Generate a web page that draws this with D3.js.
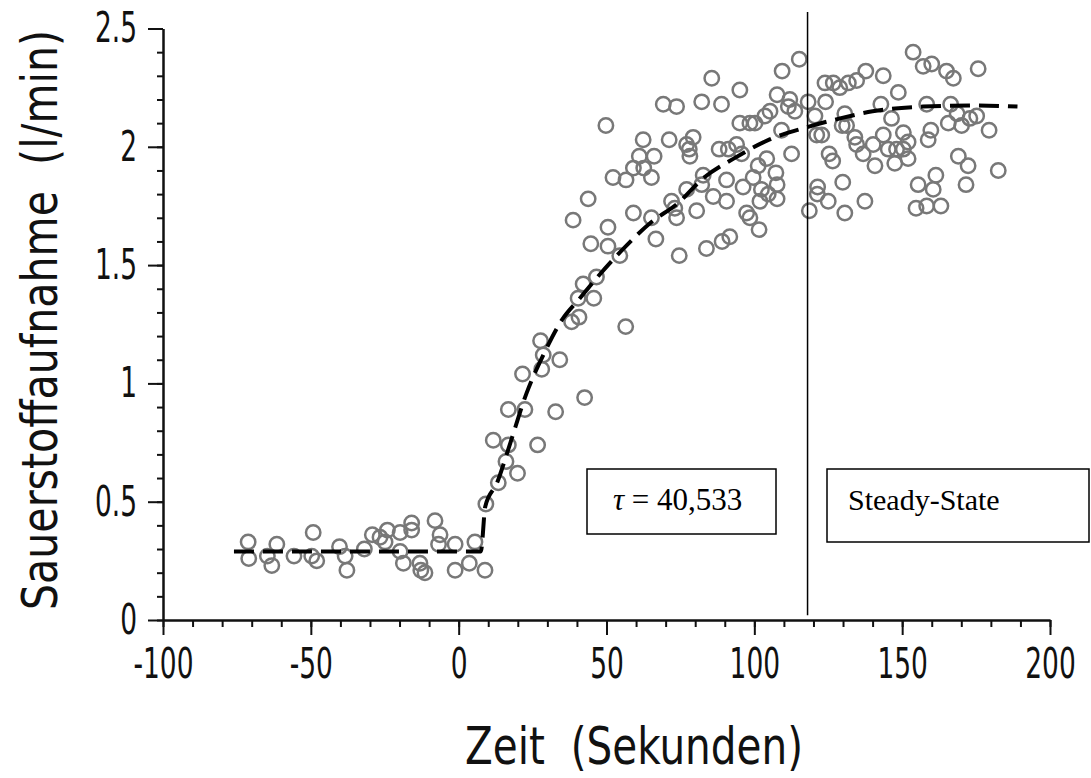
<!DOCTYPE html>
<html>
<head>
<meta charset="utf-8">
<script src="https://cdn.jsdelivr.net/npm/d3@7"></script>
<style>
  body { margin: 0; background: #fff; }
  svg { display: block; }
</style>
</head>
<body>
<div id="chart"></div>
<script>
// Messpunkte (Zeit in s, VO2 in l/min)
const messZeit = [
  -71.2, -71.0, -64.7, -63.2, -61.5, -55.7, -49.2, -49.7, -48.0, -40.3, -38.4, -37.8, -31.9, -29.2, -26.6, -24.1, -24.9,
  -19.8, -19.8, -18.7, -15.9, -15.9, -13.1, -12.8, -11.4, -8.0, -6.3, -6.8, -1.2, -1.2, 3.6, 5.5, 8.9, 9.2,
  28.6, 34.2, 28.1, 21.6, 42.6, 16.8, 22.4, 32.8, 11.7, 16.8, 26.7, 16.0, 19.9, 13.4, 27.7,
  69.2, 73.7, 82.2, 88.9, 49.8, 95.1, 98.5, 100.2, 62.4, 71.2, 79.3, 77.1, 78.0, 78.2, 88.1, 91.2, 94.0, 95.7,
  61.1, 66.1, 59.1, 62.6, 52.2, 56.6, 65.2, 82.7, 82.2, 90.6, 101.3, 99.6, 96.2, 102.4, 43.8, 77.1, 86.1, 90.6,
  101.9, 38.7, 59.1, 65.2, 72.0, 73.1, 73.7, 80.5, 97.4, 98.5, 101.6, 50.5, 44.7, 50.5, 66.7, 83.8, 89.1, 91.7,
  54.5, 74.6, 46.6, 42.1, 40.4, 45.7, 40.7, 38.2, 56.5, 85.6,
  115.2, 109.4, 95.1, 107.7, 112.0, 111.5, 113.7, 105.3, 103.6, 109.2, 112.6, 104.2, 107.3, 107.7, 104.7, 107.7,
  118.2, 124.1, 120.5, 123.9, 126.7, 128.9, 131.8, 134.6, 137.7, 143.6, 148.7, 153.7, 157.1, 160.0, 165.0, 167.3,
  175.7, 142.8, 158.3, 166.4, 130.6, 146.4, 129.7, 131.2, 121.1, 122.8, 134.0, 134.6, 140.2, 143.6, 150.4, 152.0,
  159.7, 158.8, 165.6, 170.1, 172.9, 175.2, 179.4, 136.8, 145.3, 148.1, 150.4, 147.5, 152.0, 140.8, 125.3, 126.5,
  169.0, 172.3, 182.5, 161.4, 155.4, 160.5, 171.6, 129.9, 121.4, 121.3, 125.0, 118.6, 130.6, 137.4, 154.7, 158.3,
  163.1, 168.6
];
const messVO2 = [
  0.33, 0.26, 0.27, 0.23, 0.32, 0.27, 0.37, 0.27, 0.25, 0.31, 0.27, 0.21, 0.30, 0.36, 0.35, 0.38, 0.33,
  0.37, 0.29, 0.24, 0.41, 0.38, 0.24, 0.21, 0.20, 0.42, 0.36, 0.32, 0.32, 0.21, 0.24, 0.33, 0.21, 0.49,
  1.12, 1.10, 1.06, 1.04, 0.94, 0.89, 0.89, 0.88, 0.76, 0.74, 0.74, 0.67, 0.62, 0.58, 1.18,
  2.18, 2.17, 2.19, 2.18, 2.09, 2.10, 2.10, 2.10, 2.03, 2.03, 2.04, 2.01, 1.99, 1.96, 1.99, 1.99, 2.01, 1.97,
  1.96, 1.96, 1.91, 1.91, 1.87, 1.86, 1.87, 1.88, 1.84, 1.86, 1.92, 1.87, 1.83, 1.82, 1.78, 1.82, 1.79, 1.77,
  1.77, 1.69, 1.72, 1.70, 1.77, 1.74, 1.70, 1.73, 1.72, 1.70, 1.65, 1.66, 1.59, 1.58, 1.61, 1.57, 1.60, 1.62,
  1.54, 1.54, 1.45, 1.42, 1.36, 1.36, 1.28, 1.26, 1.24, 2.29,
  2.37, 2.32, 2.24, 2.22, 2.20, 2.17, 2.15, 2.15, 2.13, 2.07, 1.97, 1.95, 1.89, 1.84, 1.80, 1.78,
  2.19, 2.19, 2.13, 2.27, 2.27, 2.25, 2.27, 2.28, 2.32, 2.30, 2.23, 2.40, 2.34, 2.35, 2.32, 2.29,
  2.33, 2.18, 2.18, 2.18, 2.14, 2.12, 2.09, 2.09, 2.05, 2.05, 2.04, 2.01, 2.01, 2.05, 2.06, 2.02,
  2.07, 2.03, 2.10, 2.09, 2.12, 2.13, 2.07, 1.97, 1.99, 1.99, 1.99, 1.93, 1.95, 1.92, 1.97, 1.94,
  1.96, 1.92, 1.90, 1.88, 1.84, 1.82, 1.84, 1.85, 1.83, 1.80, 1.77, 1.73, 1.72, 1.77, 1.74, 1.75,
  1.75, 2.14
];

// Angepasste Kurve (gestrichelt)
const fitZeit = [-76, 7.5, 9, 13, 17, 23, 29, 35, 41, 47, 55, 65, 74, 83, 93, 105, 117, 129, 140, 157, 174, 189];
const fitVO2 = [0.29, 0.29, 0.48, 0.58, 0.73, 0.96, 1.13, 1.27, 1.36, 1.45, 1.56, 1.68, 1.76, 1.87, 1.95, 2.03, 2.08, 2.12, 2.15, 2.17, 2.175, 2.17];

const xTickLabels = [-100, -50, 0, 50, 100, 150, 200];
const yTickLabels = [0, 0.5, 1, 1.5, 2, 2.5];
const steadyStateStart = 118;
const tauText = "40,533";

const W = 1091, H = 778;
const AXIS_FONT = '"DejaVu Sans", sans-serif';
const SX = 0.63; // schmale Schrift nachbilden

const svg = d3.select("#chart").append("svg")
    .attr("width", W)
    .attr("height", H);

const x = d3.scaleLinear().domain([-100, 200]).range([163, 1050]);
const y = d3.scaleLinear().domain([0, 2.5]).range([620, 28.5]);

// --- Achsen ---
const gxMinor = svg.append("g").attr("transform", `translate(0,${y(0)})`)
    .call(d3.axisBottom(x).tickValues(d3.range(-100, 201, 10)).tickSize(7).tickSizeOuter(0).tickFormat(""));
const gx = svg.append("g").attr("transform", `translate(0,${y(0)})`)
    .call(d3.axisBottom(x).tickValues(xTickLabels).tickSize(15).tickSizeOuter(0).tickPadding(13).tickFormat(d => String(d)));

const gyMinor = svg.append("g").attr("transform", `translate(${x(-100)},0)`)
    .call(d3.axisLeft(y).tickValues(d3.range(0, 2.51, 0.1)).tickSize(6).tickSizeOuter(0).tickFormat(""));
const gy = svg.append("g").attr("transform", `translate(${x(-100)},0)`)
    .call(d3.axisLeft(y).tickValues(yTickLabels).tickSize(15).tickSizeOuter(0).tickFormat(d => String(d)));

[gxMinor, gx, gyMinor, gy].forEach(g => {
  g.selectAll("path, line").attr("stroke", "#111").attr("stroke-width", 2);
});

gx.selectAll("text")
    .attr("font-family", AXIS_FONT)
    .attr("font-size", 42)
    .attr("fill", "#111")
    .attr("transform", `scale(${SX},1)`);

gy.selectAll("text")
    .attr("font-family", AXIS_FONT)
    .attr("font-size", 42)
    .attr("fill", "#111")
    .attr("x", -26 / SX)
    .attr("transform", `scale(${SX},1)`);

// --- Messpunkte ---
svg.append("g")
  .selectAll("circle")
  .data(messZeit.map((t, i) => ({t: t, v: messVO2[i]})))
  .join("circle")
    .attr("cx", d => x(d.t))
    .attr("cy", d => y(d.v))
    .attr("r", 7.2)
    .attr("fill", "none")
    .attr("stroke", "#787878")
    .attr("stroke-width", 2.5);

// --- Fitkurve ---
const line = d3.line()
    .x(d => x(d[0]))
    .y(d => y(d[1]))
    .curve(d3.curveMonotoneX);

svg.append("path")
    .datum(fitZeit.map((t, i) => [t, fitVO2[i]]))
    .attr("d", line)
    .attr("fill", "none")
    .attr("stroke", "#000")
    .attr("stroke-width", 4)
    .attr("stroke-dasharray", "20 9");

// --- Steady-State Grenze ---
svg.append("line")
    .attr("x1", x(steadyStateStart)).attr("x2", x(steadyStateStart))
    .attr("y1", y(2.57)).attr("y2", y(0.02))
    .attr("stroke", "#000")
    .attr("stroke-width", 1.5);

// --- Textboxen ---
svg.append("rect")
    .attr("x", 587).attr("y", 469).attr("width", 189).attr("height", 65)
    .attr("fill", "#fff").attr("stroke", "#000").attr("stroke-width", 1.5);
const tauLabel = svg.append("text")
    .attr("x", 613).attr("y", 510)
    .attr("font-family", '"Liberation Serif", "Times New Roman", serif')
    .attr("font-size", 31)
    .style("white-space", "pre");
tauLabel.append("tspan").attr("font-style", "italic").text("τ");
tauLabel.append("tspan").text(" = " + tauText);

svg.append("rect")
    .attr("x", 827).attr("y", 469).attr("width", 262).attr("height", 73)
    .attr("fill", "#fff").attr("stroke", "#000").attr("stroke-width", 1.5);
svg.append("text")
    .attr("x", 848).attr("y", 510)
    .attr("font-family", '"Liberation Serif", "Times New Roman", serif')
    .attr("font-size", 30)
    .text("Steady-State");

// --- Achsentitel ---
svg.append("text")
    .attr("x", 634).attr("y", 764)
    .attr("text-anchor", "middle")
    .attr("font-family", AXIS_FONT)
    .attr("font-size", 52)
    .attr("textLength", 338)
    .attr("lengthAdjust", "spacingAndGlyphs")
    .style("white-space", "pre")
    .attr("fill", "#111")
    .text("Zeit  (Sekunden)");

svg.append("text")
    .attr("transform", "translate(57,320) rotate(-90)")
    .attr("text-anchor", "middle")
    .attr("font-family", AXIS_FONT)
    .attr("font-size", 50)
    .attr("textLength", 580)
    .attr("lengthAdjust", "spacingAndGlyphs")
    .style("white-space", "pre")
    .attr("fill", "#111")
    .text("Sauerstoffaufnahme  (l/min)");
</script>
</body>
</html>
